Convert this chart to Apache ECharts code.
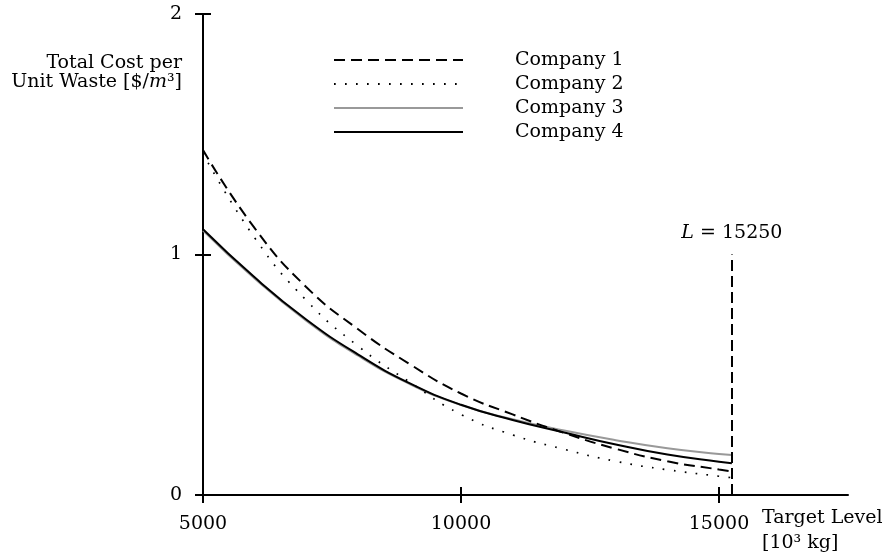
<!DOCTYPE html>
<html>
<head>
<meta charset="utf-8">
<script src="https://cdn.jsdelivr.net/npm/echarts@6/dist/echarts.min.js"></script>
<style>
html,body{margin:0;padding:0;background:#fff;}
#chart{width:885px;height:557px;}
</style>
</head>
<body>
<div id="chart"></div>
<script>
// Target level [10^3 kg]
const targetLevels = [5000, 6000, 7000, 8000, 9000, 10000, 11000, 12000, 13000, 14000, 15000, 15250];
const company1 = [1.434, 1.11, 0.865, 0.69, 0.545, 0.422, 0.335, 0.258, 0.192, 0.140, 0.106, 0.098];
const company2 = [1.42, 1.07, 0.81, 0.62, 0.47, 0.335, 0.25, 0.19, 0.14, 0.105, 0.078, 0.072];
const company3 = [1.10, 0.90, 0.725, 0.58, 0.462, 0.374, 0.315, 0.268, 0.228, 0.194, 0.170, 0.166];
const company4 = [1.105, 0.905, 0.73, 0.585, 0.465, 0.375, 0.312, 0.26, 0.21, 0.168, 0.138, 0.132];
const seriesNames = ['Company 1', 'Company 2', 'Company 3', 'Company 4'];
const xTicks = [5000, 10000, 15000];
const limitL = 15250;
const limitTop = 1.0;

const FONT = 'DejaVu Serif';
const FS = 19;

function pairs(ys) { return targetLevels.map((x, i) => [x, ys[i]]); }

const chart = echarts.init(document.getElementById('chart'), null, { renderer: 'canvas' });

const tickStyle = { color: '#000', width: 2 };

chart.setOption({
  animation: false,
  backgroundColor: '#fff',
  textStyle: { fontFamily: FONT, color: '#000' },
  grid: { left: 203, right: 37, top: 14, bottom: 62, containLabel: false },
  legend: {
    data: seriesNames,
    orient: 'vertical',
    left: 328,
    top: 45,
    itemWidth: 129,
    itemHeight: 14,
    itemGap: 4,
    itemStyle: { opacity: 0, color: 'rgba(0,0,0,0)', borderWidth: 0 },
    textStyle: { fontFamily: FONT, fontSize: FS, color: '#000', lineHeight: 20, padding: [0, 0, 0, 47] }
  },
  xAxis: [
    {
      type: 'value', min: 5000, max: 17500,
      splitLine: { show: false },
      axisLine: { show: true, onZero: false, lineStyle: { color: '#000', width: 2 } },
      axisTick: { show: true, length: 8, customValues: xTicks, lineStyle: tickStyle },
      axisLabel: { show: true, customValues: xTicks, color: '#000', fontFamily: FONT, fontSize: FS, margin: 20,
        formatter: v => String(v) }
    },
    {
      type: 'value', min: 5000, max: 17500, position: 'bottom',
      splitLine: { show: false },
      axisLine: { show: false, onZero: false },
      axisTick: { show: true, inside: true, length: 8, customValues: xTicks, lineStyle: tickStyle },
      axisLabel: { show: false }
    }
  ],
  yAxis: [
    {
      type: 'value', min: 0, max: 2, interval: 1,
      splitLine: { show: false },
      axisLine: { show: true, onZero: false, lineStyle: { color: '#000', width: 2 } },
      axisTick: { show: true, length: 8, lineStyle: tickStyle },
      axisLabel: { show: true, color: '#000', fontFamily: FONT, fontSize: FS, margin: 21, formatter: v => String(v) }
    },
    {
      type: 'value', min: 0, max: 2, interval: 1, position: 'left',
      splitLine: { show: false },
      axisLine: { show: false, onZero: false },
      axisTick: { show: true, inside: true, length: 8, lineStyle: tickStyle },
      axisLabel: { show: false }
    }
  ],
  graphic: [
    {
      type: 'text', x: 182, y: 54, silent: true,
      style: {
        text: 'Total Cost per\nUnit Waste [$/{i|m}³]',
        font: FS + 'px "' + FONT + '"',
        fill: '#000', align: 'right', verticalAlign: 'top', lineHeight: 19,
        rich: { i: { fontStyle: 'italic', fontFamily: FONT, fontSize: FS, lineHeight: 19 } }
      }
    },
    {
      type: 'text', x: 762, y: 506, silent: true,
      style: {
        text: 'Target Level\n[10³ kg]',
        font: FS + 'px "' + FONT + '"',
        fill: '#000', align: 'left', verticalAlign: 'top', lineHeight: 25
      }
    }
  ],
  series: [
    {
      name: seriesNames[0], type: 'line', data: pairs(company1), smooth: true,
      symbol: 'none', lineStyle: { color: '#000', width: 2, type: [11, 6] }, itemStyle: { color: '#000' }, z: 4
    },
    {
      name: seriesNames[1], type: 'line', data: pairs(company2), smooth: true,
      symbol: 'none', lineStyle: { color: '#000', width: 1.7, type: [1.7, 9.3] }, itemStyle: { color: '#000' }, z: 3
    },
    {
      name: seriesNames[2], type: 'line', data: pairs(company3), smooth: true,
      symbol: 'none', lineStyle: { color: '#999', width: 2 }, itemStyle: { color: '#999' }, z: 2
    },
    {
      name: seriesNames[3], type: 'line', data: pairs(company4), smooth: true,
      symbol: 'none', lineStyle: { color: '#000', width: 2 }, itemStyle: { color: '#000' }, z: 5,
      markLine: {
        silent: true, animation: false,
        symbol: ['none', 'none'],
        lineStyle: { color: '#000', width: 2, type: [11, 5] },
        label: {
          show: true, position: 'end', distance: 12,
          formatter: '{i|L} = ' + limitL,
          color: '#000', fontFamily: FONT, fontSize: FS,
          rich: { i: { fontStyle: 'italic', fontFamily: FONT, fontSize: FS, color: '#000' } }
        },
        data: [[{ coord: [limitL, 0] }, { coord: [limitL, limitTop] }]]
      }
    }
  ]
});
</script>
</body>
</html>
